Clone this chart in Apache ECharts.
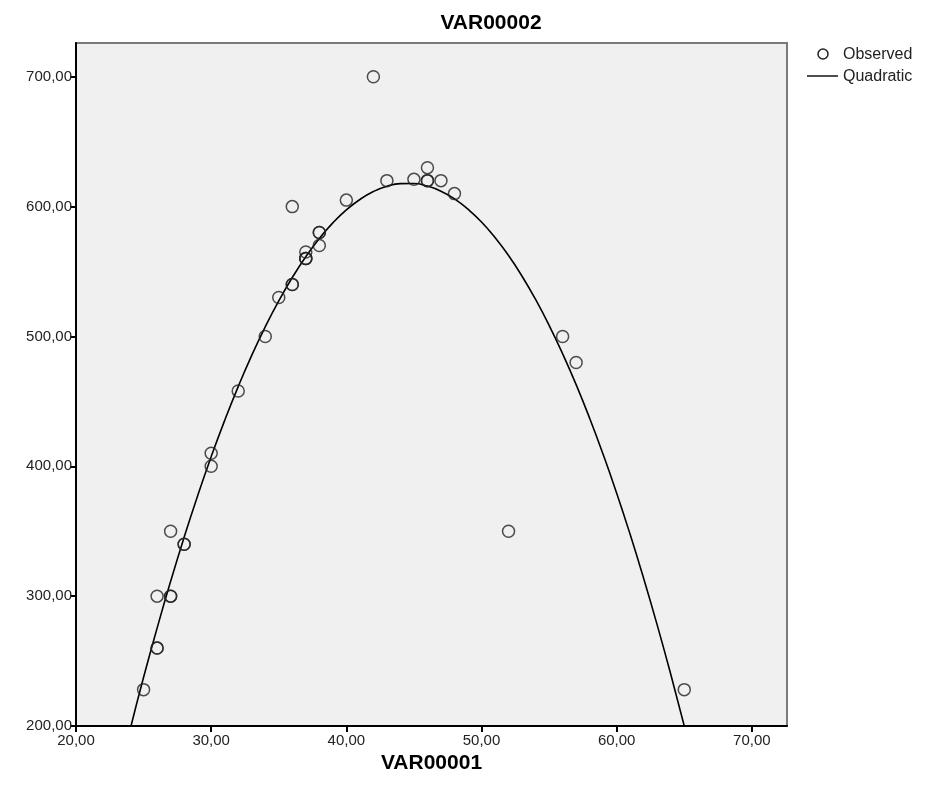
<!DOCTYPE html>
<html>
<head>
<meta charset="utf-8">
<script src="https://cdn.jsdelivr.net/npm/echarts@6/dist/echarts.min.js"></script>
<style>html,body{margin:0;padding:0;background:#fff;}#c{width:930px;height:803px;}</style>
</head>
<body>
<div id="c"></div>
<script>
var chartTitle = 'VAR00002';
var xName = 'VAR00001';
var xTicks = [20, 30, 40, 50, 60, 70];
var yTicks = [200, 300, 400, 500, 600, 700];
var obsX = [25, 26, 26, 26, 27, 27, 27, 28, 28, 30, 30, 32, 34, 35, 36, 36, 36, 37, 37, 37, 37, 38, 38, 38, 40, 42, 43, 45, 46, 46, 46, 47, 48, 52, 56, 57, 65];
var obsY = [228, 300, 260, 260, 350, 300, 300, 340, 340, 410, 400, 458, 500, 530, 600, 540, 540, 565, 560, 560, 560, 580, 580, 570, 605, 700, 620, 621, 630, 620, 620, 620, 610, 350, 500, 480, 228];
var fitX = [24.07, 25, 26, 27, 28, 29, 30, 31, 32, 33, 34, 35, 36, 37, 38, 39, 40, 41, 42, 43, 44, 45, 46, 47, 48, 49, 50, 51, 52, 53, 54, 55, 56, 57, 58, 59, 60, 61, 62, 63, 64, 65];
var fitY = [200, 237.5, 275.4, 311.4, 345.4, 377.4, 407.4, 435.4, 461.4, 485.4, 507.4, 527.4, 545.4, 561.4, 575.5, 587.5, 597.5, 605.5, 611.6, 615.7, 617.7, 617.8, 615.8, 611.9, 606.0, 598.0, 588.2, 576.2, 562.3, 546.4, 528.5, 508.6, 486.7, 462.9, 437.0, 409.1, 379.3, 347.4, 313.5, 277.7, 239.8, 200];

var fmt = function (v) { return Number(v).toFixed(2).replace('.', ','); };
var font = 'Liberation Sans, Arial, sans-serif';

var chart = echarts.init(document.getElementById('c'), null, {renderer: 'canvas'});
chart.setOption({
  animation: false,
  backgroundColor: '#ffffff',
  title: {
    text: chartTitle, left: 486, top: 8, textAlign: 'center',
    textStyle: {fontFamily: font, fontSize: 21, fontWeight: 'bold', color: '#000'}
  },
  grid: {
    left: 76, right: 143, top: 43, bottom: 77,
    show: true, backgroundColor: '#f0f0f0', borderColor: '#7a7a7a', borderWidth: 2
  },
  xAxis: {
    type: 'value', min: 20, max: 72.6,
    name: xName, nameLocation: 'middle', nameGap: 27,
    nameTextStyle: {fontFamily: font, fontSize: 21, fontWeight: 'bold', color: '#000'},
    axisLine: {show: true, onZero: false, lineStyle: {color: '#000', width: 2}},
    axisTick: {show: true, length: 6, inside: false, customValues: xTicks, lineStyle: {color: '#000', width: 2}},
    axisLabel: {customValues: xTicks, formatter: fmt, margin: 7, fontFamily: font, fontSize: 15, color: '#222'},
    splitLine: {show: false}
  },
  yAxis: {
    type: 'value', min: 200, max: 726,
    axisLine: {show: true, onZero: false, lineStyle: {color: '#000', width: 2}},
    axisTick: {show: true, length: 6, customValues: yTicks, lineStyle: {color: '#000', width: 2}},
    axisLabel: {customValues: yTicks, formatter: fmt, margin: 4, fontFamily: font, fontSize: 15, color: '#222'},
    splitLine: {show: false}
  },
  series: [
    {
      name: 'Quadratic', type: 'line', smooth: true, showSymbol: false, symbol: 'none',
      data: fitX.map(function (x, i) { return [x, fitY[i]]; }),
      lineStyle: {color: '#000', width: 1.6}, z: 2
    },
    {
      name: 'Observed', type: 'scatter', symbol: 'circle', symbolSize: 12,
      data: obsX.map(function (x, i) { return [x, obsY[i]]; }),
      itemStyle: {color: 'rgba(0,0,0,0)', borderColor: '#222', borderWidth: 1.5}, z: 3
    }
  ],
  graphic: [
    {type: 'circle', shape: {cx: 823, cy: 54, r: 5}, style: {fill: 'none', stroke: '#222', lineWidth: 1.5}},
    {type: 'text', x: 843, y: 55, style: {text: 'Observed', fontFamily: font, fontSize: 16, fill: '#222', verticalAlign: 'middle'}},
    {type: 'line', shape: {x1: 807, y1: 76, x2: 838, y2: 76}, style: {stroke: '#222', lineWidth: 1.6}},
    {type: 'text', x: 843, y: 77, style: {text: 'Quadratic', fontFamily: font, fontSize: 16, fill: '#222', verticalAlign: 'middle'}}
  ]
});
</script>
</body>
</html>
